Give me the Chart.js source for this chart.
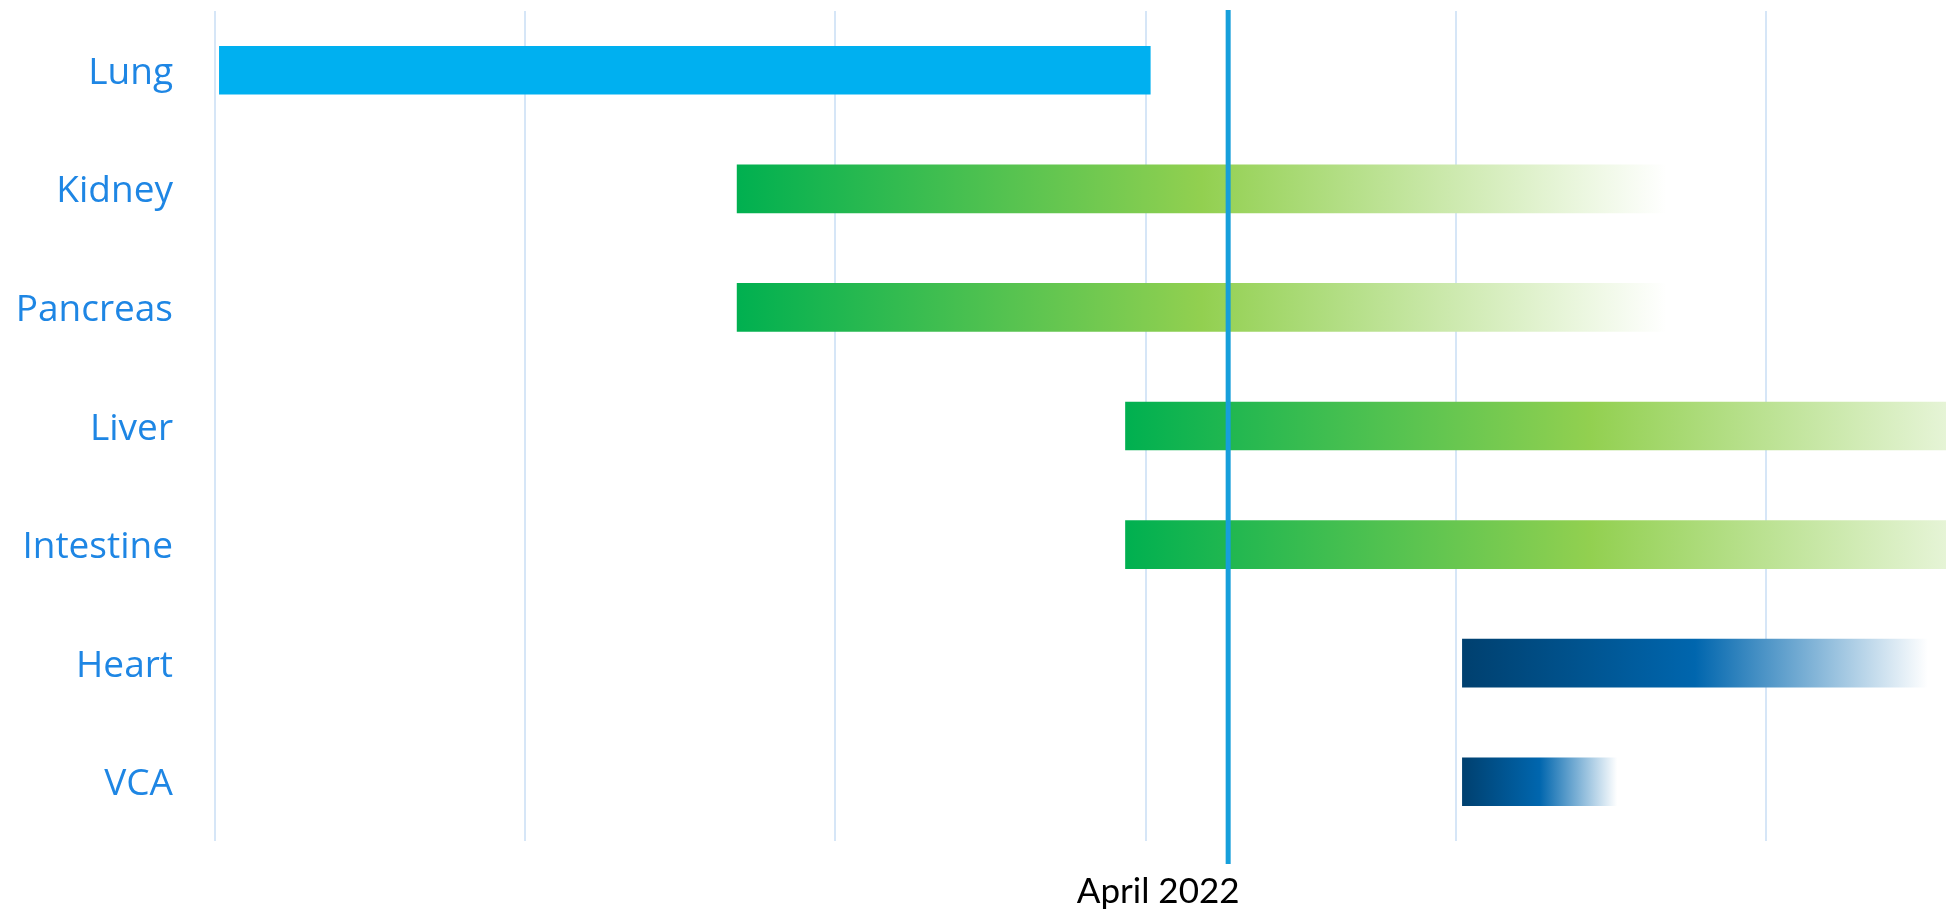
<!DOCTYPE html>
<html>
<head>
<meta charset="utf-8">
<script src="https://cdn.jsdelivr.net/npm/chart.js@4.4.1/dist/chart.umd.min.js"></script>
<style>
  html, body { margin: 0; padding: 0; background: #ffffff; }
  #wrap { width: 1946px; height: 911px; }
</style>
</head>
<body>
<div id="wrap"><canvas id="c" width="1946" height="911"></canvas></div>
<script>
// ---- data (x unit = one gridline interval) ----
const ORGANS      = ['Lung', 'Kidney', 'Pancreas', 'Liver', 'Intestine', 'Heart', 'VCA'];
const START_VALUES = [0.013, 1.682, 1.682, 2.934, 2.934, 4.020, 4.020];
const END_VALUES   = [3.016, 4.679, 4.679, 5.930, 5.930, 5.522, 4.520];
const GRID_TICKS   = [0, 1, 2, 3, 4, 5];
const APRIL_VALUE  = 3.266;
const APRIL_LABEL  = 'April 2022';
const X_MIN = 0, X_MAX = 5.58;

// ---- styles ----
const BAR_STYLE = ['solid', 'green', 'green', 'green', 'green', 'blue', 'blue'];
const PALETTES = {
  solid: ['#00B0F0'],
  green: ['#00B050', '#92D050', '#FFFFFF'],
  blue:  ['#00406F', '#0066AE', '#FFFFFF']
};

function barFill(ctx) {
  const i = ctx.dataIndex;
  const pal = PALETTES[BAR_STYLE[i]];
  if (pal.length === 1) return pal[0];
  const chart = ctx.chart;
  const xs = chart.scales && chart.scales.x;
  if (!xs || !chart.chartArea) return pal[0];
  const x0 = xs.getPixelForValue(START_VALUES[i]);
  const x1 = xs.getPixelForValue(END_VALUES[i]);
  const g = chart.ctx.createLinearGradient(x0, 0, x1, 0);
  pal.forEach((c, k) => g.addColorStop(k / (pal.length - 1), c));
  return g;
}

const aprilLine = {
  id: 'aprilLine',
  afterDatasetsDraw(chart) {
    const xs = chart.scales.x;
    const x = xs.getPixelForValue(APRIL_VALUE);
    const { top, bottom } = chart.chartArea;
    const c = chart.ctx;
    c.save();
    c.strokeStyle = '#169FDB';
    c.lineWidth = 5;
    c.beginPath();
    c.moveTo(x, top - 1);
    c.lineTo(x, bottom + 23);
    c.stroke();
    c.restore();
  }
};

new Chart(document.getElementById('c'), {
  type: 'bar',
  data: {
    labels: ORGANS,
    datasets: [{
      data: ORGANS.map((_, i) => [START_VALUES[i], END_VALUES[i]]),
      backgroundColor: barFill,
      borderWidth: 0,
      borderSkipped: false,
      categoryPercentage: 1,
      barPercentage: 0.41
    }]
  },
  options: {
    indexAxis: 'y',
    responsive: false,
    devicePixelRatio: 1,
    animation: false,
    layout: { padding: { top: 11, left: 0, right: 0, bottom: 0 } },
    plugins: { legend: { display: false }, tooltip: { enabled: false } },
    scales: {
      x: {
        type: 'linear',
        min: X_MIN,
        max: X_MAX,
        afterBuildTicks: (scale) => {
          scale.ticks = GRID_TICKS.concat([APRIL_VALUE]).map(v => ({ value: v }));
        },
        afterFit: (scale) => {
          scale.height = 70;
          scale.paddingLeft = 0; scale.paddingRight = 0;
        },
        border: { display: false },
        grid: {
          drawTicks: false,
          lineWidth: 2,
          color: (ctx) => (ctx.tick && ctx.tick.value === APRIL_VALUE) ? 'rgba(0,0,0,0)' : '#D6E6F7'
        },
        ticks: {
          autoSkip: false,
          maxRotation: 0,
          padding: 30,
          labelOffset: -70,
          color: '#000000',
          font: { family: 'Lato', size: 35 },
          callback: (value) => value === APRIL_VALUE ? APRIL_LABEL : ''
        }
      },
      y: {
        type: 'category',
        offset: true,
        afterFit: (scale) => {
          scale.width = 215;
          scale.paddingTop = 0; scale.paddingBottom = 0;
        },
        border: { display: false },
        grid: { display: false, drawTicks: false },
        ticks: {
          padding: 42,
          labelOffset: 3,
          color: '#1E86E4',
          font: { family: 'Open Sans', size: 37 }
        }
      }
    }
  },
  plugins: [aprilLine]
});
</script>
</body>
</html>
